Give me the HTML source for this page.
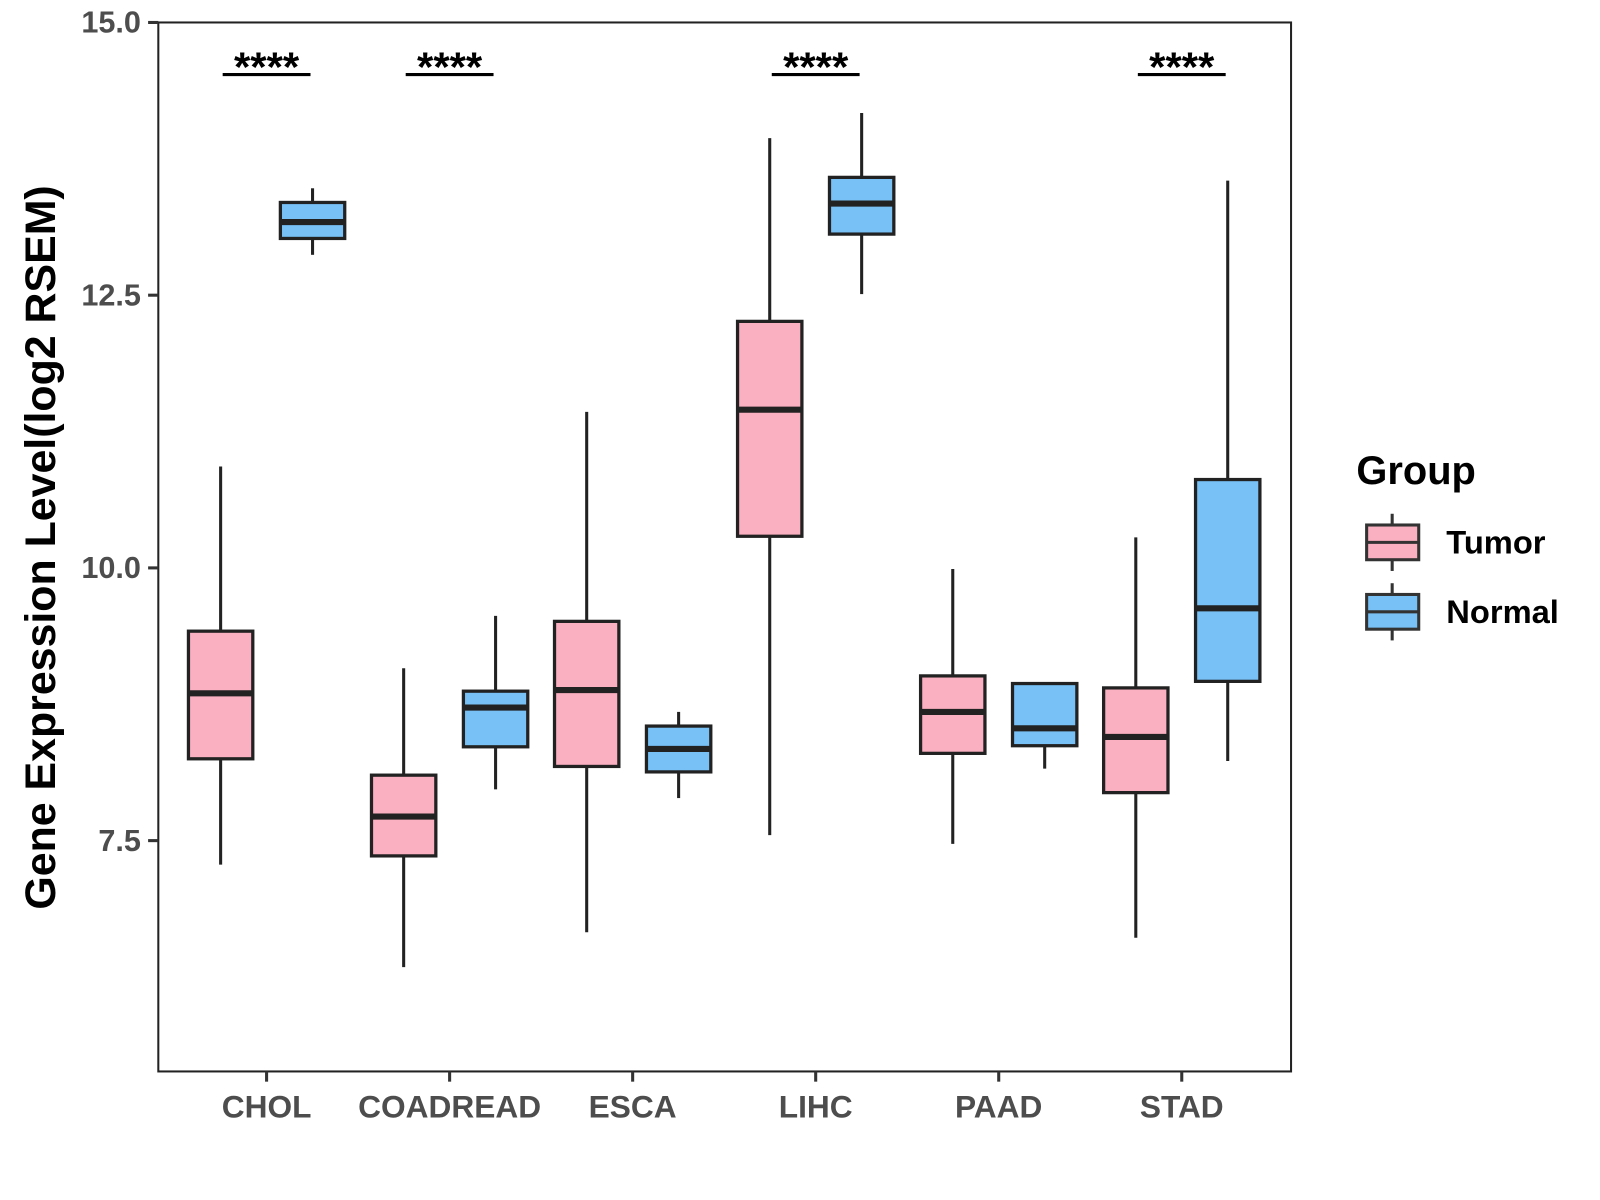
<!DOCTYPE html>
<html><head><meta charset="utf-8"><style>
html,body{margin:0;padding:0;background:#fff;}
svg{display:block;font-family:"Liberation Sans",Arial,sans-serif;}
</style></head><body>
<svg id="chart" width="1600" height="1200" viewBox="0 0 1600 1200"><g id="root" transform="scale(1.0214)"></g></svg>
<script>
const categories = ["CHOL","COADREAD","ESCA","LIHC","PAAD","STAD"];
const tumorMin = [7.28,6.34,6.66,7.55,7.47,6.61];
const tumorQ1  = [8.25,7.36,8.18,10.29,8.30,7.94];
const tumorMed = [8.85,7.72,8.88,11.45,8.68,8.45];
const tumorQ3  = [9.42,8.10,9.51,12.26,9.01,8.90];
const tumorMax = [10.93,9.08,11.43,13.94,9.99,10.28];
const normalMin = [12.87,7.97,7.89,12.51,8.16,8.23];
const normalQ1  = [13.02,8.36,8.13,13.06,8.37,8.96];
const normalMed = [13.17,8.72,8.34,13.34,8.53,9.63];
const normalQ3  = [13.35,8.87,8.55,13.58,8.94,10.81];
const normalMax = [13.48,9.56,8.68,14.17,8.94,13.55];
const significance = ["****","****","","****","","****"];
const yTicks = [7.5,10.0,12.5,15.0];
const yTickLabels = ["7.5","10.0","12.5","15.0"];

const NS="http://www.w3.org/2000/svg";
const svg=document.getElementById('root');
const L=155,R=1264,T=22,B=1049, yMin=5.384, yMax=15;
const y=v=>B-(v-yMin)/(yMax-yMin)*(B-T);
const x=i=>261+i*179.2;
function mk(tag,attrs,parent){const e=document.createElementNS(NS,tag);for(const k in attrs)e.setAttribute(k,attrs[k]);(parent||svg).appendChild(e);return e;}

const panel=mk('rect',{x:L,y:T,width:R-L,height:B-T,fill:'#fff',stroke:'#222','stroke-width':2});



yTicks.forEach((v,i)=>{
  const t=mk('line',{x1:145,x2:L,y1:y(v),y2:y(v),stroke:'#333','stroke-width':3});
  
  
  const lb=mk('text',{x:138,y:y(v)+10,'text-anchor':'end','font-size':30,'font-weight':'bold',fill:'#4d4d4d'});
  lb.textContent=yTickLabels[i];
  
  
});
categories.forEach((c,i)=>{
  const t=mk('line',{x1:x(i),x2:x(i),y1:B,y2:B+10,stroke:'#333','stroke-width':3});
  
  
  const lb=mk('text',{x:x(i),y:1094,'text-anchor':'middle','font-size':31,'font-weight':'bold',fill:'#4d4d4d'});
  lb.textContent=c;
  
  
});

function box(cx,mn,q1,md,q3,mx,fill,name){
  const g=mk('g',{});
  
  
  const w=63;
  mk('line',{x1:cx,x2:cx,y1:y(mx),y2:y(q3),stroke:'#222','stroke-width':3},g);
  mk('line',{x1:cx,x2:cx,y1:y(q1),y2:y(mn),stroke:'#222','stroke-width':3},g);
  mk('rect',{x:cx-w/2,y:y(q3),width:w,height:Math.max(0,y(q1)-y(q3)),fill:fill,stroke:'#222','stroke-width':3.2},g);
  mk('line',{x1:cx-w/2,x2:cx+w/2,y1:y(md),y2:y(md),stroke:'#222','stroke-width':6},g);
}
categories.forEach((c,i)=>{
  box(x(i)-45,tumorMin[i],tumorQ1[i],tumorMed[i],tumorQ3[i],tumorMax[i],'#FBB0C1','tumor-box-'+c.toLowerCase());
  box(x(i)+45,normalMin[i],normalQ1[i],normalMed[i],normalQ3[i],normalMax[i],'#77C1F7','normal-box-'+c.toLowerCase());
  if(significance[i]){
    const ln=mk('line',{x1:x(i)-43,x2:x(i)+43,y1:73,y2:73,stroke:'#000','stroke-width':3});
    
    
    const st=mk('text',{x:x(i),y:80,'text-anchor':'middle','font-size':41,'font-weight':'bold',fill:'#000'});
    st.textContent=significance[i];
    
    
  }
});

const yt=mk('text',{x:0,y:0,transform:'translate(54,536) rotate(-90)','text-anchor':'middle','font-size':42,'font-weight':'bold',fill:'#000'});
yt.textContent='Gene Expression Level(log2 RSEM)';



const lg=mk('g',{});


const lt=mk('text',{x:1328,y:474,'font-size':39,'font-weight':'bold',fill:'#000'},lg);
lt.textContent='Group';


[['Tumor','#FBB0C1',531],['Normal','#77C1F7',599]].forEach(([lab,col,cy])=>{
  const e=mk('g',{},lg);
  
  
  mk('line',{x1:1363,x2:1363,y1:cy-28,y2:cy+28,stroke:'#333','stroke-width':3},e);
  mk('rect',{x:1338,y:cy-17,width:51,height:34,fill:col,stroke:'#333','stroke-width':3},e);
  mk('line',{x1:1338,x2:1389,y1:cy,y2:cy,stroke:'#333','stroke-width':3},e);
  const t=mk('text',{x:1416,y:cy+11,'font-size':32,'font-weight':'bold',fill:'#000'},e);
  t.textContent=lab;
});
</script>
</body></html>
